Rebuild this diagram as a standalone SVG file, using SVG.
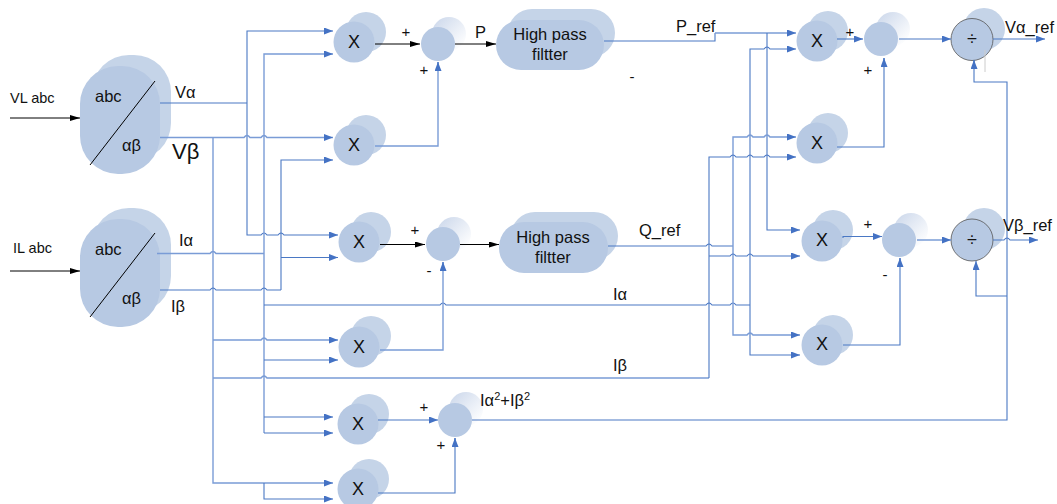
<svg xmlns="http://www.w3.org/2000/svg" width="1057" height="504" viewBox="0 0 1057 504">
<style>
text{font-family:"Liberation Sans",Arial,sans-serif;fill:#111}
.f{fill:#b7c9e3}
.b{fill:#c5d4e8}
.s{fill:url(#fade)}
.d{stroke:#555;stroke-width:.8}
.c{fill:none;stroke:#4a78c4;stroke-width:1.1}
.l{fill:none;stroke:#7a9cd6;stroke-width:1.4}
.k{fill:none;stroke:#000;stroke-width:1}
.a{marker-end:url(#ab)}
.m{marker-end:url(#am)}
.t{font-size:16.500px}
.x{font-size:18px;text-anchor:middle}
.h{font-size:16.500px;text-anchor:middle}
.p{font-size:15px;text-anchor:middle}
</style>
<defs>
<linearGradient id="fade" x1="0.1" y1="0.1" x2="0.9" y2="0.9"><stop offset="0" stop-color="#cfdaec"/><stop offset="1" stop-color="#ffffff"/></linearGradient>
<marker id="ab" markerUnits="userSpaceOnUse" markerWidth="10" markerHeight="8" refX="9" refY="3.500" orient="auto"><path d="M0 0L9 3.500L0 7z" fill="#4472c4"/></marker>
<marker id="am" markerUnits="userSpaceOnUse" markerWidth="11" markerHeight="8" refX="10" refY="3" orient="auto"><path d="M0 0L10 3L0 6z" fill="#000"/></marker>
</defs>

<g id="clarke-v">
<rect class="b" x="92" y="55" width="79" height="105" rx="37"/>
<rect class="f" x="80" y="66" width="80" height="108" rx="38"/>
<path class="k" d="M90 165L155 81"/>
<text x="95" y="102" class="t">abc</text><text x="122" y="151" class="t">αβ</text>
</g>
<g id="clarke-i">
<rect class="b" x="92" y="208" width="79" height="105" rx="37"/>
<rect class="f" x="80" y="219" width="80" height="108" rx="38"/>
<path class="k" d="M90 317L155 233"/>
<text x="95" y="255" class="t">abc</text><text x="122" y="304" class="t">αβ</text>
</g>
<g id="x1"><circle class="b" cx="366" cy="32" r="20"/><circle class="f" cx="354" cy="42" r="20.500"/><text class="x" x="354" y="48">X</text></g>
<g id="x2"><circle class="b" cx="366" cy="135" r="20"/><circle class="f" cx="354" cy="145" r="20.500"/><text class="x" x="354" y="151">X</text></g>
<g id="x3"><circle class="b" cx="371" cy="232" r="20"/><circle class="f" cx="359" cy="242" r="20.500"/><text class="x" x="359" y="248">X</text></g>
<g id="x4"><circle class="b" cx="371" cy="336" r="20"/><circle class="f" cx="359" cy="347" r="20.500"/><text class="x" x="359" y="353">X</text></g>
<g id="x5"><circle class="b" cx="369" cy="414" r="20"/><circle class="f" cx="358" cy="424" r="20.500"/><text class="x" x="358" y="430">X</text></g>
<g id="x6"><circle class="b" cx="369" cy="479" r="20"/><circle class="f" cx="358" cy="489" r="20.500"/><text class="x" x="358" y="495">X</text></g>
<g id="x7"><circle class="b" cx="828" cy="31" r="20"/><circle class="f" cx="817" cy="41" r="20.500"/><text class="x" x="817" y="47">X</text></g>
<g id="x8"><circle class="b" cx="828" cy="133" r="20"/><circle class="f" cx="817" cy="143" r="20.500"/><text class="x" x="817" y="149">X</text></g>
<g id="x9"><circle class="b" cx="833" cy="230" r="20"/><circle class="f" cx="822" cy="241" r="20.500"/><text class="x" x="822" y="246">X</text></g>
<g id="x10"><circle class="b" cx="833" cy="335" r="20"/><circle class="f" cx="822" cy="345" r="20.500"/><text class="x" x="822" y="350">X</text></g>
<g id="sum1"><circle class="s" cx="449" cy="34" r="17"/><circle class="f" cx="438" cy="44" r="17"/></g>
<g id="sum2"><circle class="s" cx="454" cy="234" r="17"/><circle class="f" cx="443" cy="244" r="17"/></g>
<g id="sum3"><circle class="s" cx="466" cy="409" r="17"/><circle class="f" cx="455" cy="420" r="17"/></g>
<g id="sum4"><circle class="s" cx="893" cy="29" r="17"/><circle class="f" cx="881" cy="39" r="17"/></g>
<g id="sum5"><circle class="s" cx="911" cy="230" r="17"/><circle class="f" cx="899" cy="240" r="17"/></g>
<g id="filter1"><rect class="b" x="508" y="9" width="107" height="48" rx="24"/><rect class="f" x="496" y="20" width="108" height="50" rx="25"/><text class="h" x="550" y="40">High pass</text><text class="h" x="550" y="60">filtter</text></g>
<g id="filter2"><rect class="b" x="511" y="212" width="107" height="48" rx="24"/><rect class="f" x="499" y="222" width="109" height="51" rx="25"/><text class="h" x="553" y="243">High pass</text><text class="h" x="553" y="263">filtter</text></g>
<g id="div1"><circle class="b" cx="984" cy="29" r="21"/><circle class="f d" cx="972" cy="39.500" r="21"/><text class="x" x="972" y="45">÷</text></g>
<g id="div2"><circle class="b" cx="984" cy="229" r="21"/><circle class="f d" cx="972" cy="240" r="21"/><text class="x" x="972" y="246">÷</text></g>

<g id="connectors">
<path class="k m" d="M10 118H80"/>
<path class="k m" d="M10 271H80"/>
<path class="k m" d="M375 44H420"/>
<path class="k m" d="M455 44H496"/>
<path class="k m" d="M380 244.500H425"/>
<path class="k m" d="M460 244.500H499"/>

<path class="c" d="M160 103H247"/>
<path class="c a" d="M247 103V31H333"/>
<path class="c a" d="M247 103V235H261q3-4 6 0H278q3-4 6 0H338"/>
<path class="l a" d="M160 137.500H244q3-4 6 0H261q3-4 6 0H333"/>
<path class="l a" d="M264 433V54H333"/>
<path class="c a" d="M264 433H333"/>
<path class="c a" d="M264 417H333"/>
<path class="l a" d="M213 137.500V483H333"/>
<path class="c a" d="M264 483V499H333"/>
<path class="l a" d="M213 340H261q3-4 6 0H338"/>
<path class="c a" d="M264 360H338"/>
<path class="l" d="M157 253.500H210q3-4 6 0H264"/>
<path class="c" d="M160 290H210q3-4 6 0H261q3-4 6 0H281"/>
<path class="c a" d="M281 290V160H333"/>
<path class="c a" d="M281 257.500H338"/>
<path class="c" d="M264 305H440q3-4 6 0H706q3-4 6 0H730q3-4 6 0H750"/>
<path class="l" d="M213 378H261q3-4 6 0H706"/>
<path class="c" d="M706 378H709"/>
<path class="l" d="M375 146H438V62"/>
<path class="c a" d="M438 70V62"/>
<path class="l" d="M380 350H443V262"/>
<path class="c a" d="M443 270V262"/>
<path class="c a" d="M378 420H438"/>
<path class="c" d="M378 493H455V438"/>
<path class="c a" d="M455 446V438"/>
<path class="c" d="M472 420H1007V82H974V60"/>
<path class="c a" d="M974 68V60"/>
<path class="c a" d="M1007 296H976V261"/>

<path class="c" d="M604 41H715V33"/>
<path class="l a" d="M715 33H796"/>
<path class="c a" d="M767 33V230H800"/>
<path class="c a" d="M750 305V49H764q3-4 6 0H796"/>
<path class="c a" d="M750 305V355H800"/>
<path class="c" d="M608 246H706q3-4 6 0H733"/>
<path class="l a" d="M733 246V137H747q3-4 6 0H764q3-4 6 0H796"/>
<path class="l a" d="M733 246V335H747q3-4 6 0H800"/>
<path class="c a" d="M709 378V157H730q3-4 6 0H747q3-4 6 0H764q3-4 6 0H796"/>
<path class="c a" d="M709 256H730q3-4 6 0H747q3-4 6 0H800"/>
<path class="c a" d="M837 39H863"/>
<path class="c" d="M837 147H884V58"/>
<path class="c a" d="M884 66V58"/>
<path class="c a" d="M899 39H951"/>
<path class="c a" d="M993 39H1045"/>
<path fill="none" stroke="#ccc" stroke-width="1" d="M985 50V72"/>
<path class="c a" d="M843 238V236.500H882"/>
<path class="c" d="M843 345H900V258"/>
<path class="c a" d="M900 266V258"/>
<path class="l a" d="M917 240H951"/>
<path class="c a" d="M993 240H1004q3-4 6 0H1038"/>
</g>

<g id="labels">
<text x="10" y="103" font-size="14.500">VL abc</text>
<text x="13" y="253" font-size="14.500">IL abc</text>
<text x="175" y="98" class="t">Vα</text>
<text x="172" y="159" font-size="22">Vβ</text>
<text x="179" y="246" class="t">Iα</text>
<text x="171" y="312" class="t">Iβ</text>
<text x="475" y="38" class="t">P</text>
<text x="676" y="32" class="t">P_ref</text>
<text x="639" y="236" class="t">Q_ref</text>
<text x="613" y="300" class="t">Iα</text>
<text x="613" y="371" class="t">Iβ</text>
<text x="480" y="406" font-size="16.500">Iα<tspan font-size="11" dy="-6">2</tspan><tspan dy="6">+Iβ</tspan><tspan font-size="11" dy="-6">2</tspan></text>
<text x="1005" y="33" class="t">Vα_ref</text>
<text x="1003" y="231" class="t">Vβ_ref</text>
<text class="p" x="406" y="37">+</text>
<text class="p" x="424" y="75">+</text>
<text class="p" x="415" y="235">+</text>
<text class="p" x="429" y="276">-</text>
<text class="p" x="424" y="412">+</text>
<text class="p" x="441" y="450">+</text>
<text class="p" x="632" y="82">-</text>
<text class="p" x="850" y="37">+</text>
<text class="p" x="868" y="75">+</text>
<text class="p" x="868" y="229">+</text>
<text class="p" x="885" y="280">-</text>
</g>
</svg>
